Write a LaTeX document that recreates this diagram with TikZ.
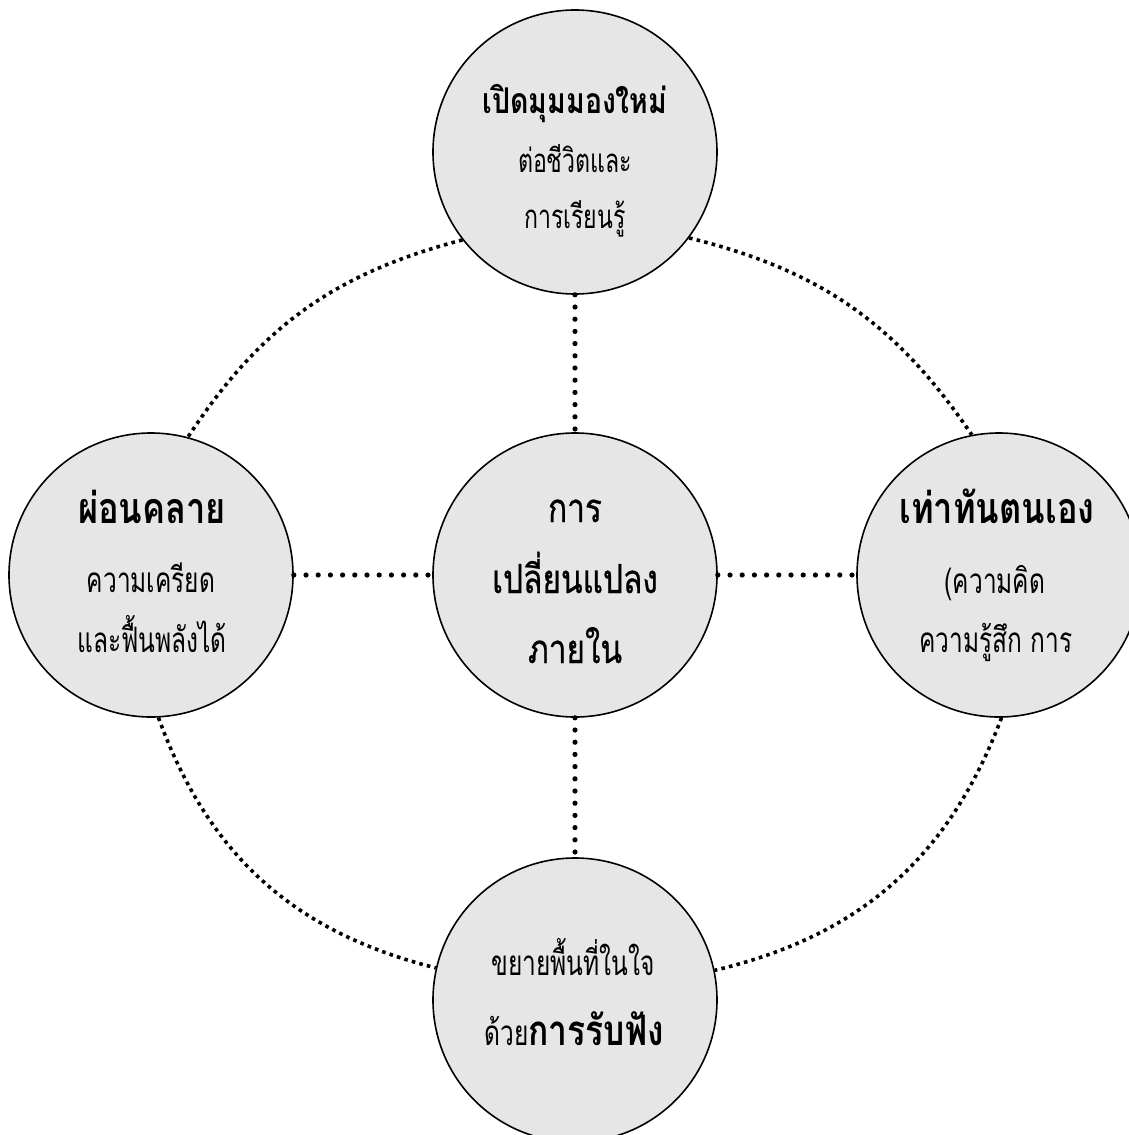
\documentclass[tikz,border=0pt]{standalone}
\usepackage{fontspec}
\newfontfamily\thai[Script=Thai,FakeStretch=0.8]{Loma}
\newfontfamily\thaiN[Script=Thai,FakeStretch=0.7]{Loma}
\newfontfamily\thaiM[Script=Thai,FakeStretch=0.79,FakeBold=0.6]{Loma}
\definecolor{bubblefill}{HTML}{E6E6E6}
\begin{document}
\begin{tikzpicture}[x=1pt,y=-1pt,
  bubble/.style={circle,draw=black,line width=1.6pt,fill=bubblefill,minimum size=284pt,inner sep=0pt},
  spoke/.style={line width=5.2pt,line cap=round,dash pattern=on 0pt off 12.2pt},
  rim/.style={line width=3.6pt,dash pattern=on 3.6pt off 4.2pt},
  lbl/.style={anchor=base,inner sep=0pt,font=\thai}]
\useasboundingbox (0,0) rectangle (1128,1135);
\node[bubble] (C) at (575,575) {};
\node[bubble] (T) at (575,152) {};
\node[bubble] (L) at (151,575) {};
\node[bubble] (R) at (999,575) {};
\node[bubble] (B) at (575,1000) {};
% spokes
\draw[spoke] (T) -- (C);
\draw[spoke] (L) -- (C);
\draw[spoke] (C) -- (R);
\draw[spoke] (C) -- (B);
% rim arcs
\draw[rim] (T.218) to[bend right=21] (L.75);
\draw[rim] (T.323) to[bend left=21] (R.101);
\draw[rim] (L.273) to[bend right=28] (B.167);
\draw[rim] (R.271) to[bend left=28] (B.12);
% texts
\node[lbl,font=\thai\bfseries\fontsize{35.5}{42}\selectfont] (t1) at (575,113) {เปิดมุมมองใหม่};
\node[lbl,font=\thaiN\fontsize{33}{39}\selectfont] (t2) at (575,172) {ต่อชีวิตและ};
\node[lbl,font=\thaiN\fontsize{33}{39}\selectfont] (t3) at (575,228) {การเรียนรู้};
\node[lbl,font=\thaiM\fontsize{40}{48}\selectfont] (c1) at (575,522) {การ};
\node[lbl,font=\thaiM\fontsize{40}{48}\selectfont] (c2) at (575,593) {เปลี่ยนแปลง};
\node[lbl,font=\thaiM\fontsize{40}{48}\selectfont] (c3) at (575,663) {ภายใน};
\node[lbl,font=\thai\bfseries\fontsize{43}{50}\selectfont] (l1) at (152,523) {ผ่อนคลาย};
\node[lbl,font=\thaiN\fontsize{35}{41}\selectfont] (l2) at (151,592) {ความเครียด};
\node[lbl,font=\thaiN\fontsize{35}{41}\selectfont] (l3) at (152,652) {และฟื้นพลังได้};
\node[lbl,font=\thai\bfseries\fontsize{43}{50}\selectfont] (r1) at (997,523) {เท่าทันตนเอง};
\node[lbl,font=\thaiN\fontsize{35}{41}\selectfont] (r2) at (995,593) {(ความคิด};
\node[lbl,font=\thaiN\fontsize{35}{41}\selectfont] (r3) at (996,652) {ความรู้สึก การ};
\node[lbl,font=\thaiN\fontsize{35}{41}\selectfont] (b1) at (573,975) {ขยายพื้นที่ในใจ};
\node[lbl,font=\thaiN\fontsize{35}{41}\selectfont] (b2) at (574,1045) {ด้วย{\thai\bfseries\fontsize{42}{49}\selectfont การรับฟัง}};
\end{tikzpicture}
\end{document}
